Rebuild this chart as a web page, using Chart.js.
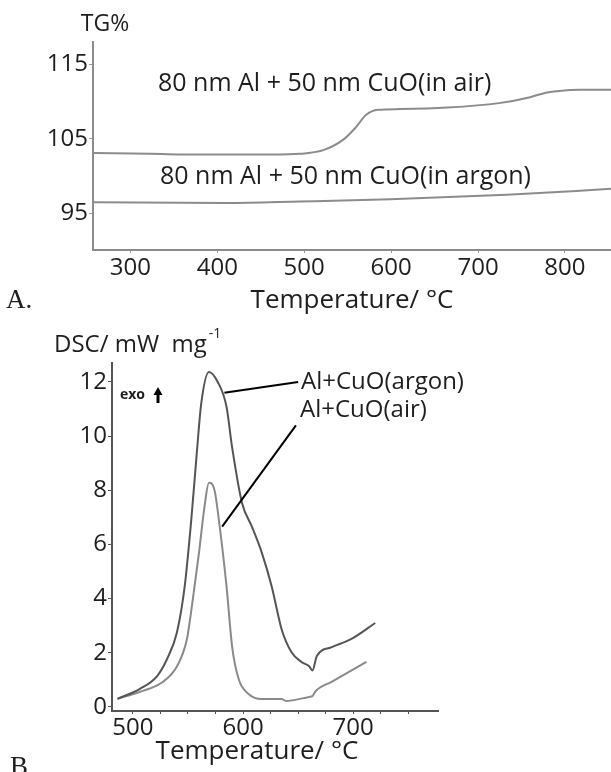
<!DOCTYPE html>
<html>
<head>
<meta charset="utf-8">
<script src="https://cdn.jsdelivr.net/npm/chart.js@4/dist/chart.umd.min.js"></script>
<style>
  body { margin: 0; background: #fff; }
  #wrap { position: relative; width: 611px; height: 772px; overflow: hidden; }
  canvas { position: absolute; left: 0; }
  #tg { top: 0; }
  #dsc { top: 320px; }
</style>
</head>
<body>
<div id="wrap">
  <canvas id="tg" width="611" height="320"></canvas>
  <canvas id="dsc" width="611" height="452"></canvas>
</div>
<script>
// Panel A - TG curves (temperature in °C, mass in %)
const tgTempAir = [258, 323, 380, 464, 495, 522, 545, 559, 571, 585, 610, 665, 724, 760, 778, 791, 817, 853];
const tgAir = [103.1, 103.0, 102.9, 102.9, 103.0, 103.5, 104.9, 106.5, 108.2, 108.9, 109.0, 109.2, 109.8, 110.6, 111.2, 111.4, 111.6, 111.6];
const tgTempArgon = [258, 410, 495, 599, 733, 853];
const tgArgon = [96.5, 96.4, 96.6, 96.9, 97.5, 98.3];
const tgTicks = [95, 105, 115];
const tgTempTicks = [300, 400, 500, 600, 700, 800];

// Panel B - DSC curves (mW/mg)
const dscTempArgon = [486, 506, 522, 531, 540, 547, 553, 558, 562, 569, 577, 585, 590, 599, 608, 617, 626, 635, 644, 653, 660, 663, 667, 680, 698, 720];
const dscArgon = [0.3, 0.66, 1.14, 1.77, 2.76, 4.45, 6.92, 9.38, 11.2, 12.37, 12.0, 11.08, 9.6, 7.54, 6.66, 5.7, 4.45, 2.87, 2.02, 1.66, 1.5, 1.35, 1.88, 2.2, 2.5, 3.1];
const dscTempAir = [486, 506, 527, 540, 549, 554, 560, 565, 569, 574, 578, 585, 590, 596, 605, 617, 635, 639, 660, 663, 666, 680, 712];
const dscAir = [0.3, 0.55, 0.92, 1.5, 2.5, 3.86, 5.7, 7.4, 8.28, 8.02, 6.92, 4.45, 2.25, 1.03, 0.48, 0.29, 0.29, 0.22, 0.37, 0.4, 0.59, 0.92, 1.66];
const dscTicks = [0, 2, 4, 6, 8, 10, 12];
const dscTempTicks = [500, 525, 550, 575, 600, 625, 650, 675, 700, 725, 750];
const dscTempLabels = [500, 600, 700];

const font = 'Open Sans';
const txt = '#1e1e1e';

function pts(xs, ys) {
    return xs.map((x, i) => ({ x: x, y: ys[i] }));
}

// free text, leader lines and the exo arrow, drawn over a chart
function textPlugin(items) {
    return {
        id: 'texts',
        afterDraw(chart) {
            const ctx = chart.ctx;
            ctx.save();
            items(chart).forEach(t => {
                if (t.line) {
                    ctx.strokeStyle = t.color || '#000';
                    ctx.lineWidth = t.width || 2;
                    ctx.beginPath();
                    ctx.moveTo(t.line[0], t.line[1]);
                    ctx.lineTo(t.line[2], t.line[3]);
                    ctx.stroke();
                    return;
                }
                if (t.arrow) {
                    const [x, y1, y2] = t.arrow;
                    ctx.fillStyle = '#000';
                    ctx.fillRect(x - 1.5, y1 + 6, 3, y2 - y1 - 6);
                    ctx.beginPath();
                    ctx.moveTo(x, y1);
                    ctx.lineTo(x - 4.5, y1 + 8);
                    ctx.lineTo(x + 4.5, y1 + 8);
                    ctx.closePath();
                    ctx.fill();
                    return;
                }
                ctx.font = t.font;
                ctx.fillStyle = t.color || txt;
                ctx.textAlign = t.align || 'left';
                ctx.textBaseline = 'middle';
                ctx.fillText(t.text, t.x, t.y);
                if (t.sup) {
                    const w = ctx.measureText(t.text).width;
                    ctx.font = t.supFont;
                    ctx.fillText(t.sup, t.x + w + 2, t.y - 11);
                }
            });
            ctx.restore();
        }
    };
}

// ---- Panel A ----
new Chart(document.getElementById('tg'), {
    type: 'line',
    data: {
        datasets: [
            { label: 'air', data: pts(tgTempAir, tgAir), borderColor: '#8c8c8c', borderWidth: 2, pointRadius: 0, cubicInterpolationMode: 'monotone' },
            { label: 'argon', data: pts(tgTempArgon, tgArgon), borderColor: '#8c8c8c', borderWidth: 2, pointRadius: 0, cubicInterpolationMode: 'monotone' }
        ]
    },
    options: {
        responsive: false,
        animation: false,
        layout: { padding: { top: 42, right: 0, left: 0, bottom: 0 } },
        plugins: { legend: { display: false }, tooltip: { enabled: false } },
        scales: {
            x: {
                type: 'linear', min: 257, max: 853,
                afterBuildTicks: s => { s.ticks = tgTempTicks.map(v => ({ value: v })); },
                afterFit: s => { s.height = 70; },
                grid: { drawOnChartArea: false, tickLength: 3, color: '#999' },
                border: { color: '#8c8c8c', width: 2 },
                ticks: { font: { family: font, size: 24 }, color: txt, padding: 1, maxRotation: 0 },
                title: { display: true, text: 'Temperature/ °C', font: { family: font, size: 26 }, color: txt, padding: { top: 0, bottom: 4 } }
            },
            y: {
                min: 90.1, max: 118,
                afterBuildTicks: s => { s.ticks = tgTicks.map(v => ({ value: v })); },
                afterFit: s => { s.width = 93; },
                grid: { drawOnChartArea: false, tickLength: 4, color: '#999' },
                border: { color: '#8c8c8c', width: 2 },
                ticks: { font: { family: font, size: 24 }, color: txt, padding: 1 }
            }
        }
    },
    plugins: [textPlugin(c => [
        { text: 'TG%', x: 105, y: 24, font: `23px "${font}"`, align: 'center' },
        { text: '80 nm Al + 50 nm CuO(in air)', x: 158, y: 84, font: `25px "${font}"` },
        { text: '80 nm Al + 50 nm CuO(in argon)', x: 160, y: 177, font: `25px "${font}"` },
        { text: 'A.', x: 6, y: 301, font: '27px "Liberation Serif"' }
    ])]
});

// ---- Panel B ----
new Chart(document.getElementById('dsc'), {
    type: 'line',
    data: {
        datasets: [
            { label: 'Al+CuO(argon)', data: pts(dscTempArgon, dscArgon), borderColor: '#555', borderWidth: 2, pointRadius: 0, cubicInterpolationMode: 'monotone' },
            { label: 'Al+CuO(air)', data: pts(dscTempAir, dscAir), borderColor: '#8a8a8a', borderWidth: 2, pointRadius: 0, cubicInterpolationMode: 'monotone' }
        ]
    },
    options: {
        responsive: false,
        animation: false,
        layout: { padding: { top: 43, right: 173, left: 0, bottom: 0 } },
        plugins: { legend: { display: false }, tooltip: { enabled: false } },
        scales: {
            x: {
                type: 'linear', min: 481, max: 777,
                afterBuildTicks: s => { s.ticks = dscTempTicks.map(v => ({ value: v })); },
                afterFit: s => { s.height = 61; },
                grid: { drawOnChartArea: false, tickLength: 3, color: '#555' },
                border: { color: '#555', width: 2 },
                ticks: {
                    font: { family: font, size: 24 }, color: txt, padding: 0, maxRotation: 0, autoSkip: false,
                    callback: v => dscTempLabels.includes(v) ? String(v) : ''
                }
            },
            y: {
                min: -0.15, max: 12.7,
                afterBuildTicks: s => { s.ticks = dscTicks.map(v => ({ value: v })); },
                afterFit: s => { s.width = 112; },
                grid: { drawOnChartArea: false, tickLength: 4, color: '#555' },
                border: { color: '#555', width: 2 },
                ticks: { font: { family: font, size: 24 }, color: txt, padding: 1 }
            }
        }
    },
    plugins: [textPlugin(c => {
        const x = c.scales.x, y = c.scales.y;
        const px = v => x.getPixelForValue(v), py = v => y.getPixelForValue(v);
        return [
            { text: 'DSC/ mW  mg', x: 54, y: 25, font: `24px "${font}"`, sup: '-1', supFont: `14px "${font}"` },
            { text: 'exo', x: 120, y: 75, font: `bold 14px "${font}"` },
            { arrow: [158, 67, 83] },
            { line: [px(583), py(11.6), px(650), py(12.0)] },
            { line: [px(648), py(10.4), px(581), py(6.66)] },
            { text: 'Al+CuO(argon)', x: 301, y: 62, font: `24px "${font}"` },
            { text: 'Al+CuO(air)', x: 300, y: 90, font: `24px "${font}"` },
            { text: 'Temperature/ °C', x: 257, y: 432, font: `26px "${font}"`, align: 'center' },
            { text: 'B', x: 10, y: 448, font: '27px "Liberation Serif"' }
        ];
    })]
});
</script>
</body>
</html>
